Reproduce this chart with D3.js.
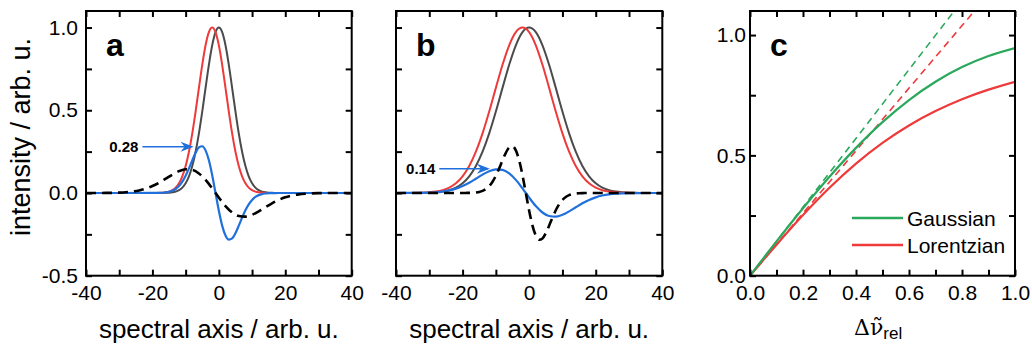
<!DOCTYPE html>
<html>
<head>
<meta charset="utf-8">
<script src="https://cdn.jsdelivr.net/npm/d3@7"></script>
<style>
  body { margin: 0; background: #fff; }
  svg { display: block; font-family: "Liberation Sans", Arial, sans-serif; }
  .tick line { stroke: #000; stroke-width: 2; }
  .tick text { font-size: 21px; fill: #000; font-family: "Liberation Sans", Arial, sans-serif; }
</style>
</head>
<body>
<script>
// ---------- panel a : narrow line (x in steps of 1)
const xA = [-40, -20, -19, -18, -17, -16, -15, -14, -13, -12, -11, -10, -9, -8, -7, -6, -5, -4, -3, -2, -1,
  0, 1, 2, 3, 4, 5, 6, 7, 8, 9, 10, 11, 12, 13, 14, 15, 16, 17, 18, 19, 20, 40];
const refA = [0, 0, 0, 0.0001, 0.0003, 0.0007, 0.0017, 0.0039, 0.0083, 0.0169, 0.0324, 0.0587, 0.1007, 0.1630,
  0.2494, 0.3604, 0.4923, 0.6354, 0.7748, 0.8928, 0.9721, 1, 0.9721, 0.8928, 0.7748, 0.6354, 0.4923, 0.3604,
  0.2494, 0.1630, 0.1007, 0.0587, 0.0324, 0.0169, 0.0083, 0.0039, 0.0017, 0.0007, 0.0003, 0.0001, 0, 0, 0];
const shiftA = [0, 0.0001, 0.0003, 0.0007, 0.0017, 0.0039, 0.0083, 0.0169, 0.0324, 0.0587, 0.1007, 0.1630, 0.2494,
  0.3604, 0.4923, 0.6354, 0.7748, 0.8928, 0.9721, 1, 0.9721, 0.8928, 0.7748, 0.6354, 0.4923, 0.3604, 0.2494,
  0.1630, 0.1007, 0.0587, 0.0324, 0.0169, 0.0083, 0.0039, 0.0017, 0.0007, 0.0003, 0.0001, 0, 0, 0, 0, 0];
const diffA = [0, 0.0001, 0.0003, 0.0006, 0.0014, 0.0032, 0.0066, 0.0130, 0.0241, 0.0418, 0.0683, 0.1043, 0.1487,
  0.1974, 0.2429, 0.2750, 0.2825, 0.2574, 0.1973, 0.1072, 0, -0.1072, -0.1973, -0.2574, -0.2825, -0.2750,
  -0.2429, -0.1974, -0.1487, -0.1043, -0.0683, -0.0418, -0.0241, -0.0130, -0.0066, -0.0032, -0.0014, -0.0006,
  -0.0003, -0.0001, 0, 0, 0];

// ---------- panel b : broad line (x in steps of 2)
const xB = [-40, -38, -36, -34, -32, -30, -28, -26, -24, -22, -20, -18, -16, -14, -12, -10, -8, -6, -4, -2,
  0, 2, 4, 6, 8, 10, 12, 14, 16, 18, 20, 22, 24, 26, 28, 30, 32, 34, 36, 38, 40];
const refB = [0, 0, 0.0001, 0.0003, 0.0007, 0.0017, 0.0039, 0.0083, 0.0169, 0.0324, 0.0587, 0.1007, 0.1630,
  0.2494, 0.3604, 0.4923, 0.6354, 0.7748, 0.8928, 0.9721, 1, 0.9721, 0.8928, 0.7748, 0.6354, 0.4923, 0.3604,
  0.2494, 0.1630, 0.1007, 0.0587, 0.0324, 0.0169, 0.0083, 0.0039, 0.0017, 0.0007, 0.0003, 0.0001, 0, 0];
const shiftB = [0, 0.0001, 0.0003, 0.0007, 0.0017, 0.0039, 0.0083, 0.0169, 0.0324, 0.0587, 0.1007, 0.1630,
  0.2494, 0.3604, 0.4923, 0.6354, 0.7748, 0.8928, 0.9721, 1, 0.9721, 0.8928, 0.7748, 0.6354, 0.4923, 0.3604,
  0.2494, 0.1630, 0.1007, 0.0587, 0.0324, 0.0169, 0.0083, 0.0039, 0.0017, 0.0007, 0.0003, 0.0001, 0, 0, 0];
const diffB = [0, 0.0001, 0.0002, 0.0004, 0.0010, 0.0022, 0.0044, 0.0086, 0.0155, 0.0263, 0.0420, 0.0623,
  0.0864, 0.1110, 0.1319, 0.1431, 0.1394, 0.1180, 0.0793, 0.0279, -0.0279, -0.0793, -0.1180, -0.1394, -0.1431,
  -0.1319, -0.1110, -0.0864, -0.0623, -0.0420, -0.0263, -0.0155, -0.0086, -0.0044, -0.0022, -0.0010, -0.0004,
  -0.0002, -0.0001, 0, 0];

// ---------- panel c : max. difference vs relative shift
const dRel = [0, 0.1, 0.2, 0.3, 0.4, 0.5, 0.6, 0.7, 0.8, 0.9, 1.0];
const gaussMax = [0, 0.1425, 0.2805, 0.4113, 0.5312, 0.638, 0.730, 0.806, 0.867, 0.913, 0.946];
const lorentzMax = [0, 0.129, 0.2523, 0.3656, 0.466, 0.552, 0.6244, 0.684, 0.7333, 0.7733, 0.806];
const gaussTanX = [0, 0.8], gaussTanY = [0, 1.142];     // small-shift slope
const lorentzTanX = [0, 0.9], lorentzTanY = [0, 1.169];

const colors = { ref: "#4b4b4b", shift: "#ee3a3a", diff: "#1f70dc", green: "#2aa85c", red: "#ee3a3a" };

const width = 1032, height = 344;
const plotTop = 11, plotBottom = 275.7;

let svg = d3.select("body").append("svg")
  .attr("width", width)
  .attr("height", height);

const zip = (xs, ys) => xs.map((v, i) => [v, ys[i]]);

function drawAxes(g, x, y, xTicks, xFmt, yTicks, yFmt, yPad) {
  g.append("g")
    .attr("transform", `translate(0,${plotBottom})`)
    .call(d3.axisBottom(x).tickValues(xTicks).tickFormat(xFmt).tickSizeInner(-6).tickSizeOuter(0).tickPadding(9));
  g.append("g")
    .attr("transform", `translate(0,${plotTop})`)
    .call(d3.axisTop(x).tickValues(xTicks).tickFormat(() => "").tickSizeInner(-6).tickSizeOuter(0));
  g.append("g")
    .attr("transform", `translate(${x.range()[0]},0)`)
    .call(d3.axisLeft(y).tickValues(yTicks).tickFormat(yFmt).tickSizeInner(-6).tickSizeOuter(0).tickPadding(yPad));
  g.append("g")
    .attr("transform", `translate(${x.range()[1]},0)`)
    .call(d3.axisRight(y).tickValues(yTicks).tickFormat(() => "").tickSizeInner(-6).tickSizeOuter(0));
  g.selectAll(".domain").remove();
  g.selectAll(".tick text").attr("font-size", null).attr("font-family", null);

  g.append("rect") // plot frame
    .attr("x", x.range()[0])
    .attr("y", plotTop)
    .attr("width", x.range()[1] - x.range()[0])
    .attr("height", plotBottom - plotTop)
    .attr("fill", "none")
    .attr("stroke", "#000")
    .attr("stroke-width", 2);
}

function letter(g, x, txt) {
  g.append("text")
    .attr("x", x.range()[0] + 20)
    .attr("y", 56)
    .attr("font-size", 32)
    .attr("font-weight", "bold")
    .text(txt);
}

function spectrumPanel(opts) {
  let g = svg.append("g");
  let x = d3.scaleLinear().domain([-40, 40]).range(opts.range);
  let y = d3.scaleLinear().domain([-0.5, 1.1]).range([plotBottom, plotTop]);

  let line = d3.line()
    .x(d => x(d[0]))
    .y(d => y(d[1]))
    .curve(d3.curveMonotoneX);

  for (let s of opts.series) {
    g.append("path")
      .attr("d", line(zip(s.x, s.y)))
      .attr("fill", "none")
      .attr("stroke", s.color)
      .attr("stroke-width", s.w || 2)
      .attr("stroke-dasharray", s.dash || null);
  }

  // peak annotation with arrow
  g.append("line")
    .attr("x1", x(opts.note.from))
    .attr("x2", x(opts.note.to) - 2)
    .attr("y1", y(opts.note.value))
    .attr("y2", y(opts.note.value))
    .attr("stroke", colors.diff)
    .attr("stroke-width", 1.5);
  g.append("path")
    .attr("transform", `translate(${x(opts.note.to)},${y(opts.note.value)})`)
    .attr("d", "M0,0 L-13,-5 L-9,0 L-13,5 Z")
    .attr("fill", colors.diff);
  g.append("text")
    .attr("x", x(opts.note.from) - 4)
    .attr("y", y(opts.note.value))
    .attr("dy", "0.36em")
    .attr("text-anchor", "end")
    .attr("font-size", 15)
    .attr("font-weight", "bold")
    .text(opts.note.label);

  drawAxes(g, x, y, d3.range(-40, 41, 10), d => d % 20 === 0 ? String(d) : "",
    [-0.5, -0.25, 0, 0.25, 0.5, 0.75, 1.0], opts.yLabels ? (d => (d * 2) % 1 === 0 ? d.toFixed(1) : "") : () => "", 8);

  letter(g, x, opts.letter);

  g.append("text") // x title
    .attr("x", (opts.range[0] + opts.range[1]) / 2)
    .attr("y", 338)
    .attr("text-anchor", "middle")
    .attr("font-size", 26)
    .text("spectral axis / arb. u.");
}

spectrumPanel({
  range: [86, 351.7],
  letter: "a",
  yLabels: true,
  note: { label: "0.28", value: 0.28, from: -23, to: -7.6 },
  series: [
    { x: xA, y: refA, color: colors.ref },
    { x: xA, y: shiftA, color: colors.shift },
    { x: xA, y: diffA, color: colors.diff, w: 2.2 },
    { x: xB, y: diffB, color: "#000", w: 2.6, dash: "10,6" }
  ]
});

spectrumPanel({
  range: [396, 662.3],
  letter: "b",
  yLabels: false,
  note: { label: "0.14", value: 0.147, from: -27, to: -11.8 },
  series: [
    { x: xB, y: refB, color: colors.ref },
    { x: xB, y: shiftB, color: colors.shift },
    { x: xB, y: diffB, color: colors.diff, w: 2.2 },
    { x: xA, y: diffA, color: "#000", w: 2.6, dash: "10,6" }
  ]
});

// y title shared by a and b
svg.append("text")
  .attr("transform", "translate(30,137) rotate(-90)")
  .attr("text-anchor", "middle")
  .attr("font-size", 27)
  .text("intensity / arb. u.");

// ---------- panel c
(function() {
  let g = svg.append("g");
  let x = d3.scaleLinear().domain([0, 1]).range([750, 1015]);
  let y = d3.scaleLinear().domain([0, 1.1]).range([plotBottom, plotTop]);

  svg.append("clipPath").attr("id", "clip-c")
    .append("rect")
    .attr("x", 750).attr("y", plotTop)
    .attr("width", 265).attr("height", plotBottom - plotTop);

  let line = d3.line()
    .x(d => x(d[0]))
    .y(d => y(d[1]))
    .curve(d3.curveMonotoneX);

  let plot = g.append("g").attr("clip-path", "url(#clip-c)");

  plot.append("path")
    .attr("d", line(zip(gaussTanX, gaussTanY)))
    .attr("fill", "none").attr("stroke", colors.green)
    .attr("stroke-width", 1.6).attr("stroke-dasharray", "7,5");
  plot.append("path")
    .attr("d", line(zip(lorentzTanX, lorentzTanY)))
    .attr("fill", "none").attr("stroke", colors.red)
    .attr("stroke-width", 1.6).attr("stroke-dasharray", "7,5");
  plot.append("path")
    .attr("d", line(zip(dRel, lorentzMax)))
    .attr("fill", "none").attr("stroke", colors.red).attr("stroke-width", 2.2);
  plot.append("path")
    .attr("d", line(zip(dRel, gaussMax)))
    .attr("fill", "none").attr("stroke", colors.green).attr("stroke-width", 2.2);

  drawAxes(g, x, y, d3.range(0, 1.01, 0.1), d => Math.round(d * 10) % 2 === 0 ? d.toFixed(1) : "",
    [0, 0.25, 0.5, 0.75, 1.0], d => (d * 2) % 1 === 0 ? d.toFixed(1) : "", 4);

  letter(g, x, "c");

  // legend
  const legend = [["Gaussian", colors.green], ["Lorentzian", colors.red]];
  legend.forEach((l, i) => {
    let ly = 218 + i * 27;
    g.append("line")
      .attr("x1", 852).attr("x2", 903)
      .attr("y1", ly).attr("y2", ly)
      .attr("stroke", l[1]).attr("stroke-width", 2.5);
    g.append("text")
      .attr("x", 907).attr("y", ly)
      .attr("dy", "0.36em")
      .attr("font-size", 21)
      .text(l[0]);
  });

  // x title: delta nu-tilde, subscript rel
  let t = g.append("text")
    .attr("x", 854).attr("y", 335)
    .attr("font-family", "'DejaVu Serif', serif")
    .attr("font-size", 22);
  t.append("tspan").text("Δν\u0303");
  t.append("tspan")
    .attr("font-family", "'Liberation Sans', Arial, sans-serif")
    .attr("font-size", 17)
    .attr("dy", 4)
    .text("rel");
})();
</script>
</body>
</html>
